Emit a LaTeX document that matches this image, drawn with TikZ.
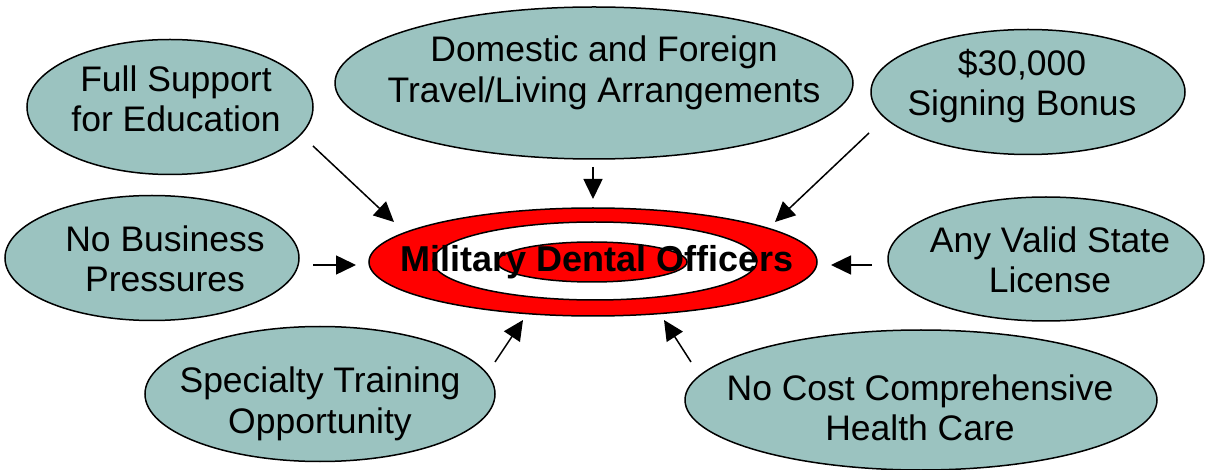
\documentclass[tikz,border=0pt]{standalone}
\usepackage{fontspec}
\setmainfont{Liberation Sans}
\usetikzlibrary{arrows.meta,shapes.geometric}
\definecolor{bubblefill}{RGB}{155,195,192}
\definecolor{targetred}{RGB}{255,0,0}
\tikzset{
  bubble/.style={ellipse, draw=black, line width=1.5pt, fill=bubblefill, inner sep=0pt, outer sep=0pt},
  ring/.style={ellipse, draw=black, line width=1.5pt, inner sep=0pt, outer sep=0pt},
  label/.style={align=center, font=\fontsize{35.5}{40.5}\selectfont, inner sep=0pt},
  pointer/.style={line width=1.5pt, -{Triangle[length=20pt,width=19pt]}}
}
\begin{document}
\begin{tikzpicture}[x=1pt,y=-1pt]
\useasboundingbox (0,0) rectangle (1208,470);
% bubbles
\node[bubble, minimum width=286pt, minimum height=135pt] (fsE) at (170,107) {};
\node[bubble, minimum width=518pt, minimum height=152pt] (dfE) at (594,83) {};
\node[bubble, minimum width=314pt, minimum height=125pt] (sbE) at (1028,92) {};
\node[bubble, minimum width=294pt, minimum height=125pt] (nbE) at (152,258) {};
\node[bubble, minimum width=316pt, minimum height=124pt] (avE) at (1046,259) {};
\node[bubble, minimum width=350pt, minimum height=135pt] (stE) at (320,394) {};
\node[bubble, minimum width=472pt, minimum height=140pt] (ncE) at (921,400) {};
% target
\node[ring, fill=targetred, minimum width=448pt, minimum height=108pt] (outer) at (593,262) {};
\node[ring, fill=white, minimum width=324pt, minimum height=78pt] (middle) at (595,261) {};
\node[ring, fill=targetred, minimum width=190pt, minimum height=40pt] (inner) at (592,262) {};
% texts
\node[label] (fsT) at (176,99) {Full Support\\for Education};
\node[label] (dfT) at (604,73) {Domestic and Foreign\\Travel/Living Arrangements};
\node[label] (sbT) at (1022,86) {\$30,000\\Signing Bonus};
\node[label] (nbT) at (165,259) {No Business\\Pressures};
\node[label] (avT) at (1050,260) {Any Valid State\\License};
\node[label] (stT) at (320,404) {Specialty Training\\Opportunity};
\node[label] (ncT) at (920,408) {No Cost Comprehensive\\Health Care};
\node[label, font=\fontsize{36}{40}\selectfont\bfseries] (mdo) at (597,262) {Military Dental Officers};
% arrow end points
\coordinate (a1s) at (313,146); \coordinate (a1e) at (394,222);
\coordinate (a2s) at (593,167); \coordinate (a2e) at (593,199);
\coordinate (a3s) at (869,133); \coordinate (a3e) at (775,222);
\coordinate (a4s) at (313,265); \coordinate (a4e) at (356,265);
\coordinate (a5s) at (872,265); \coordinate (a5e) at (831,265);
\coordinate (a6s) at (495,362); \coordinate (a6e) at (523,320);
\coordinate (a7s) at (691,362); \coordinate (a7e) at (664,320);
\draw[pointer] (a1s) -- (a1e);
\draw[pointer] (a2s) -- (a2e);
\draw[pointer] (a3s) -- (a3e);
\draw[pointer] (a4s) -- (a4e);
\draw[pointer] (a5s) -- (a5e);
\draw[pointer] (a6s) -- (a6e);
\draw[pointer] (a7s) -- (a7e);
\end{tikzpicture}
\end{document}
